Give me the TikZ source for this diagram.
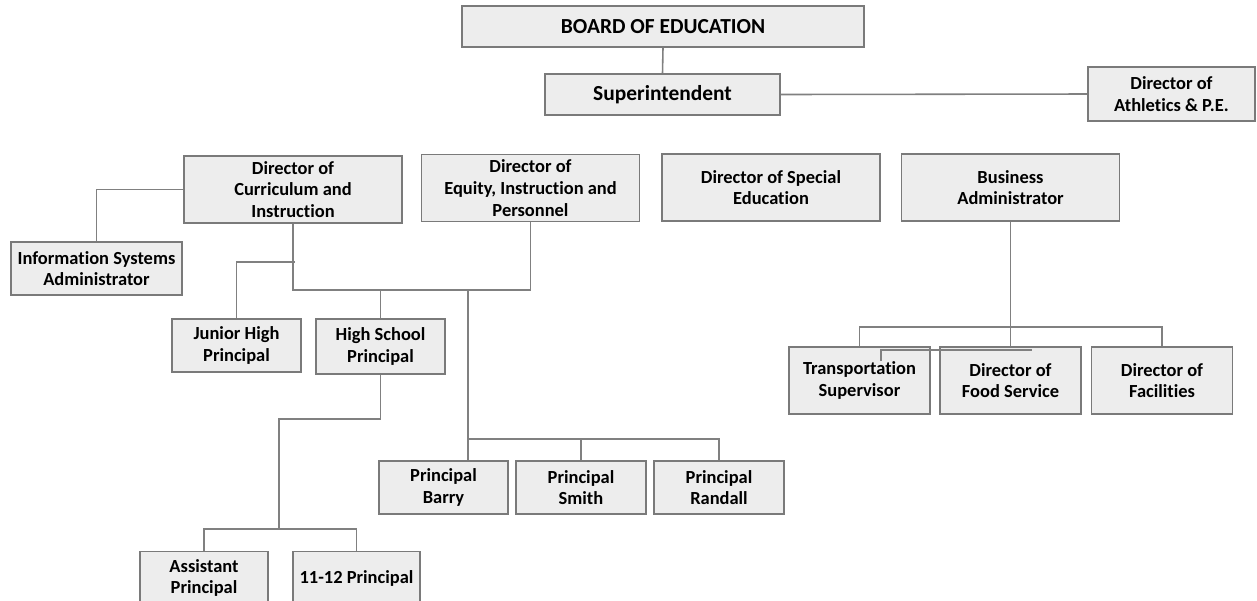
\documentclass[tikz,border=0pt]{standalone}
\usepackage{fontspec}
\setmainfont{Carlito}[Ligatures=NoCommon]
\usetikzlibrary{positioning}

\begin{document}
\begin{tikzpicture}[
  x=0.02cm,y=-0.02cm,
  unit/.style={rectangle,draw=black!52,fill=black!7,line width=0.9pt,inner sep=0pt,
               align=center,font=\bfseries\fontsize{10.5}{12.4}\selectfont},
  head/.style={unit,minimum height=0.82cm,font=\bfseries\fontsize{12.2}{14}\selectfont},
  dept/.style={unit,minimum width=4.36cm,minimum height=1.34cm},
  school/.style={unit,minimum width=2.58cm,minimum height=1.06cm},
  service/.style={unit,minimum width=2.82cm,minimum height=1.34cm},
  link/.style={draw=black!50,line width=0.9pt}
]
  \clip (0,0) rectangle (1257,600);
  \fill[white] (0,0) rectangle (1257,600);

  % top of the chart
  \node[head,minimum width=8.04cm] (board) at (663,26.5) {BOARD OF EDUCATION};
  \node[head,minimum width=4.7cm] (super) at (662.5,94.5) {Superintendent};
  \node[unit,minimum width=3.34cm,minimum height=1.08cm] (athletics) at (1171.5,94) {Director of\\Athletics \& P.E.};

  % directors
  \node[dept] (curric) at (293,189.5) {Director of\\Curriculum and\\Instruction};
  \node[dept] (equity) at (530.5,188) {Director of\\Equity, Instruction and\\Personnel};
  \node[dept] (sped) at (771,187.5) {Director of Special\\Education};
  \node[dept] (business) at (1010.5,187.5) {Business\\Administrator};
  \node[unit,minimum width=3.42cm,minimum height=1.06cm] (infosys) at (96.5,268.5) {Information Systems\\Administrator};

  % schools
  \node[school] (junior) at (236.5,345.5) {Junior High\\Principal};
  \node[school,minimum height=1.1cm] (high) at (380.5,346.5) {High School\\Principal};
  \node[school] (barry) at (443.5,487.5) {Principal\\Barry};
  \node[school,minimum width=2.6cm] (smith) at (581,487.5) {Principal\\Smith};
  \node[school,minimum width=2.6cm] (randall) at (719,487.5) {Principal\\Randall};
  \node[school,minimum width=2.56cm] (assistant) at (204,578) {Assistant\\Principal};
  \node[school,minimum width=2.54cm] (upper) at (356.5,578) {11-12 Principal};

  % business services
  \node[service] (transport) at (859.5,380.5) {Transportation\\Supervisor};
  \node[service] (food) at (1010.5,380.5) {Director of\\Food Service};
  \node[service] (facilities) at (1162,380.5) {Director of\\Facilities};

  % bends of the connectors
  \coordinate (hub) at (468,290);
  \coordinate (jtee) at (295,262);
  \coordinate (prow) at (468,439);
  \coordinate (hsbend) at (279,419);
  \coordinate (asbar) at (279,529);
  \coordinate (bbar) at (1010.5,327);
  \coordinate (stray) at (881,361);
  \coordinate (strayend) at (1032,350);

  \draw[link] (board.south) -- (super.north);
  \draw[link] (super.east) -- (athletics.west);
  \draw[link] (curric.west) -| (infosys.north);
  \draw[link] (curric.south) |- (hub) -| (equity.south);
  \draw[link] (junior.north) |- (jtee);
  \draw[link] (high.north) -- (high.north |- hub);
  \draw[link] (hub) -- (prow) -- (prow |- barry.north);
  \draw[link] (prow) -| (randall.north);
  \draw[link] (smith.north) -- (smith.north |- prow);
  \draw[link] (high.south) |- (hsbend) -- (asbar);
  \draw[link] (assistant.north) |- (asbar) -| (upper.north);
  \draw[link] (business.south) -- (food.north);
  \draw[link] (transport.north) |- (bbar) -| (facilities.north);
  \draw[link] (stray) |- (strayend);
\end{tikzpicture}
\end{document}
